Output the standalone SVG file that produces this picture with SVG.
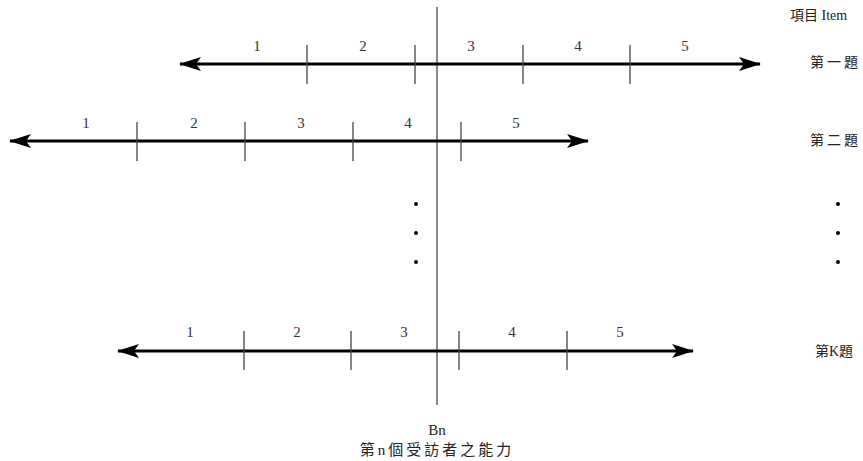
<svg xmlns="http://www.w3.org/2000/svg" width="863" height="461" viewBox="0 0 863 461">
<style>
.axis{stroke:#000;stroke-width:3;fill:none}
.tick{stroke:#444;stroke-width:1.3}
.num{font-family:"Liberation Serif",serif;font-size:15px;fill:#333;text-anchor:middle}
.lbl{font-family:"Liberation Serif","Noto Sans CJK TC",serif;font-size:14px;fill:#222}
.sp{letter-spacing:3px}
.dot{fill:#000}
</style>
<defs>
<marker id="ah" viewBox="0 0 22 14" refX="21" refY="7" markerWidth="22" markerHeight="14" markerUnits="userSpaceOnUse" orient="auto-start-reverse">
<path d="M0,0 L22,7 L0,14 L5,7 Z" fill="#000"/>
</marker>
</defs>
<rect width="863" height="461" fill="#fff"/>
<g id="connectors">
<line id="bn-axis" x1="437" y1="7" x2="437" y2="405" stroke="#888" stroke-width="2"/>
</g>
<g id="item1">
<line class="axis" x1="180" y1="64" x2="760" y2="64" marker-start="url(#ah)" marker-end="url(#ah)"/>
<line class="tick" x1="307" y1="45" x2="307" y2="84"/>
<line class="tick" x1="415" y1="45" x2="415" y2="84"/>
<line class="tick" x1="523" y1="45" x2="523" y2="84"/>
<line class="tick" x1="630" y1="45" x2="630" y2="84"/>
<text class="num" x="257" y="51">1</text>
<text class="num" x="363" y="51">2</text>
<text class="num" x="471" y="51">3</text>
<text class="num" x="578" y="51">4</text>
<text class="num" x="685" y="51">5</text>
<text class="lbl sp" x="810" y="67">第一題</text>
</g>
<g id="item2">
<line class="axis" x1="10" y1="141" x2="588" y2="141" marker-start="url(#ah)" marker-end="url(#ah)"/>
<line class="tick" x1="137" y1="122" x2="137" y2="161"/>
<line class="tick" x1="245" y1="122" x2="245" y2="161"/>
<line class="tick" x1="353" y1="122" x2="353" y2="161"/>
<line class="tick" x1="461" y1="122" x2="461" y2="161"/>
<text class="num" x="86" y="128">1</text>
<text class="num" x="194" y="128">2</text>
<text class="num" x="301" y="128">3</text>
<text class="num" x="408" y="128">4</text>
<text class="num" x="516" y="128">5</text>
<text class="lbl sp" x="810" y="145">第二題</text>
</g>
<g id="ellipsis">
<circle class="dot" cx="416" cy="204" r="2"/>
<circle class="dot" cx="416" cy="233" r="2"/>
<circle class="dot" cx="416" cy="262" r="2"/>
<circle class="dot" cx="838" cy="204" r="2"/>
<circle class="dot" cx="838" cy="233" r="2"/>
<circle class="dot" cx="838" cy="262" r="2"/>
</g>
<g id="itemK">
<line class="axis" x1="118" y1="351" x2="693" y2="351" marker-start="url(#ah)" marker-end="url(#ah)"/>
<line class="tick" x1="244" y1="331" x2="244" y2="370"/>
<line class="tick" x1="351" y1="331" x2="351" y2="370"/>
<line class="tick" x1="459" y1="331" x2="459" y2="370"/>
<line class="tick" x1="567" y1="331" x2="567" y2="370"/>
<text class="num" x="190" y="337">1</text>
<text class="num" x="297" y="337">2</text>
<text class="num" x="404" y="337">3</text>
<text class="num" x="512" y="337">4</text>
<text class="num" x="620" y="337">5</text>
<text class="lbl" x="815" y="356">第K題</text>
</g>
<g id="header">
<text class="lbl" x="790" y="20">項目 Item</text>
</g>
<g id="bn-label">
<text class="lbl" x="437" y="435" text-anchor="middle" style="font-size:15px">Bn</text>
<text class="lbl" x="437" y="455" text-anchor="middle" style="font-size:15px;letter-spacing:3px">第n個受訪者之能力</text>
</g>
</svg>
